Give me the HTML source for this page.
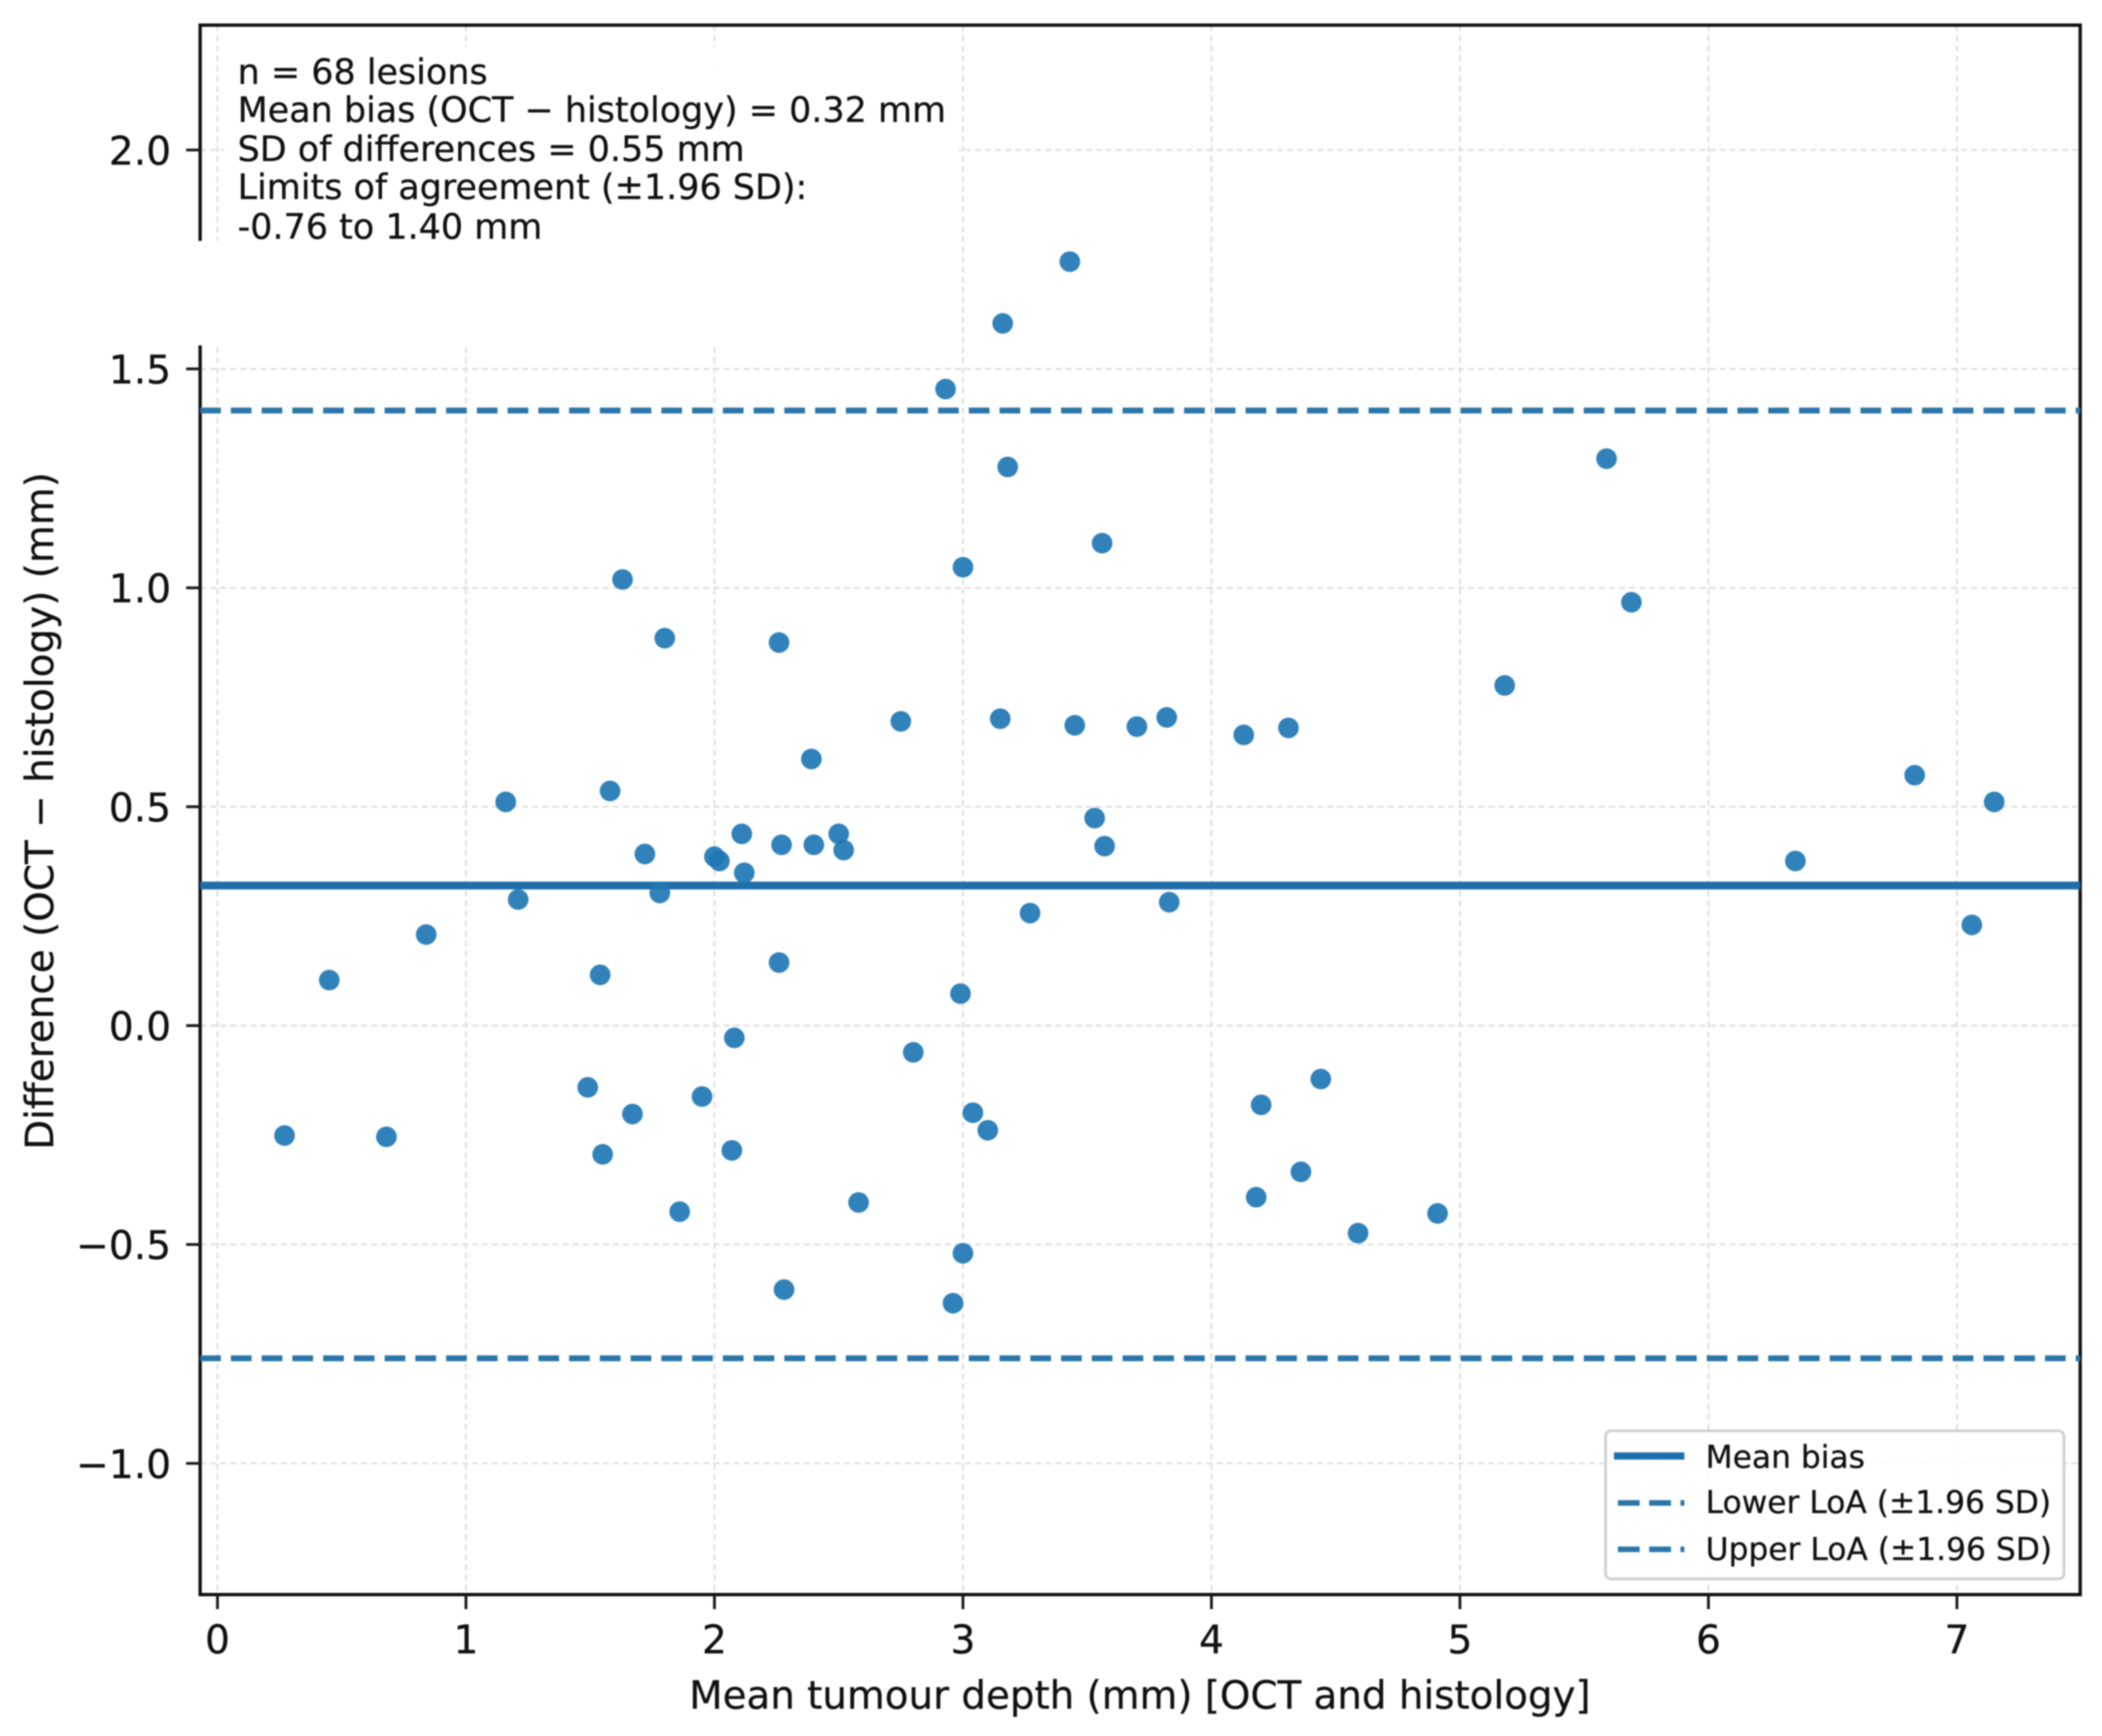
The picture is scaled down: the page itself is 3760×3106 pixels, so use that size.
<!DOCTYPE html>
<html>
<head>
<meta charset="utf-8">
<title>Bland-Altman plot</title>
<style>
html,body{margin:0;padding:0;background:#fff;width:3760px;height:3106px;overflow:hidden}
svg{display:block;filter:blur(1.2px)}
text{font-family:"DejaVu Sans","Liberation Sans",sans-serif;fill:#111;stroke:#111;stroke-width:0.5px}
</style>
</head>
<body>
<svg id="chart" xmlns="http://www.w3.org/2000/svg" width="3760" height="3106" viewBox="0 0 3760 3106">
  <rect x="0" y="0" width="3760" height="3106" fill="#fff"/>
  <g id="grid"></g>
  <rect x="358" y="45" width="3363" height="2808" fill="none" stroke="#111" stroke-width="6"/>
  <g id="ticks"></g>
  <rect x="400" y="85" width="1315" height="346" fill="#fff" fill-opacity="0.92"/>
  <rect x="345" y="431" width="1370" height="187" fill="#fff"/>
  <g id="refs"></g>
  <g id="points"></g>

  <g font-size="62.5">
    <text x="425" y="150">n = 68 lesions</text>
    <text x="425" y="218">Mean bias (OCT − histology) = 0.32 mm</text>
    <text x="425" y="288">SD of differences = 0.55 mm</text>
    <text x="425" y="356">Limits of agreement (±1.96 SD):</text>
    <text x="425" y="427">-0.76 to 1.40 mm</text>
  </g>

  <g>
    <rect x="2872" y="2560" width="820" height="265" rx="10" ry="10" fill="#fff" fill-opacity="0.85" stroke="#d0d0d0" stroke-width="5"/>
    <line x1="2887" x2="3013" y1="2605" y2="2605" stroke="#1f6fab" stroke-width="13"/>
    <text x="3051" y="2626" font-size="56">Mean bias</text>
    <line x1="2894" x2="3013" y1="2689" y2="2689" stroke="#2a76aa" stroke-width="10" stroke-dasharray="39 17"/>
    <text x="3051" y="2707" font-size="56">Lower LoA (±1.96 SD)</text>
    <line x1="2894" x2="3013" y1="2772" y2="2772" stroke="#2a76aa" stroke-width="10" stroke-dasharray="39 17"/>
    <text x="3051" y="2791" font-size="56">Upper LoA (±1.96 SD)</text>
  </g>

  <text x="2039" y="3057" font-size="69.4" text-anchor="middle">Mean tumour depth (mm) [OCT and histology]</text>
  <text transform="translate(95,1451) rotate(-90)" font-size="69.6" text-anchor="middle">Difference (OCT − histology) (mm)</text>
</svg>

<script>
const xTicks = [0, 1, 2, 3, 4, 5, 6, 7];
const xTickLabels = ["0", "1", "2", "3", "4", "5", "6", "7"];
const yTicks = [-1, -0.5, 0, 0.5, 1, 1.5, 2];
const yTickLabels = ["−1.0", "−0.5", "0.0", "0.5", "1.0", "1.5", "2.0"];
const meanBias = 0.32;
const lowerLoA = -0.76;
const upperLoA = 1.405;
const meanDepth = [3.43,3.16,2.93,3.18,5.59,3.56,3.00,5.69,1.63,1.80,2.26,5.18,2.75,3.15,3.45,3.70,3.82,4.13,4.31,2.39,1.58,1.16,6.83,7.15,3.53,2.11,2.50,2.27,2.40,2.52,3.57,1.72,2.00,2.02,2.12,6.35,1.78,1.21,3.83,3.27,0.84,7.06,0.45,1.54,2.26,2.99,2.08,2.80,4.44,1.49,1.95,3.04,1.67,4.20,3.10,0.27,0.68,2.07,1.55,4.36,4.18,2.58,1.86,4.91,4.59,3.00,2.28,2.96];
const differences = [1.745,1.604,1.454,1.276,1.295,1.102,1.047,0.967,1.019,0.885,0.875,0.777,0.695,0.701,0.686,0.683,0.704,0.664,0.680,0.609,0.536,0.511,0.572,0.511,0.474,0.438,0.438,0.413,0.413,0.401,0.410,0.392,0.386,0.376,0.349,0.376,0.303,0.288,0.282,0.257,0.208,0.230,0.104,0.116,0.144,0.073,-0.028,-0.061,-0.122,-0.141,-0.162,-0.199,-0.202,-0.181,-0.239,-0.251,-0.254,-0.285,-0.294,-0.334,-0.392,-0.404,-0.425,-0.429,-0.474,-0.520,-0.603,-0.634];

const SVG_NS = "http://www.w3.org/2000/svg";
const plotLeft = 358, plotRight = 3721, plotTop = 45, plotBottom = 2853;
function xScale(v) { return 389 + v * 444.5; }
function yScale(v) { return 1835 - v * 783.3; }
function make(tag, attrs, parent) {
  const el = document.createElementNS(SVG_NS, tag);
  for (const k in attrs) el.setAttribute(k, attrs[k]);
  parent.appendChild(el);
  return el;
}
const gridG = document.getElementById("grid");
const ticksG = document.getElementById("ticks");
const refsG = document.getElementById("refs");
const pointsG = document.getElementById("points");

xTicks.forEach(function (t, i) {
  const x = xScale(t);
  const g = make("line", {x1: x, x2: x, y1: plotTop, y2: plotBottom, stroke: "#dcdcdc", "stroke-width": 3, "stroke-dasharray": "11 7"}, gridG);
  
  
  const m = make("line", {x1: x, x2: x, y1: plotBottom, y2: plotBottom + 26, stroke: "#1a1a1a", "stroke-width": 5}, ticksG);
  
  
  const l = make("text", {x: x, y: 2958, "font-size": 70, "text-anchor": "middle"}, ticksG);
  
  
  l.textContent = xTickLabels[i];
});

yTicks.forEach(function (t, i) {
  const y = yScale(t);
  const g = make("line", {x1: plotLeft, x2: plotRight, y1: y, y2: y, stroke: "#dcdcdc", "stroke-width": 3, "stroke-dasharray": "11 7"}, gridG);
  
  
  const m = make("line", {x1: plotLeft - 25, x2: plotLeft, y1: y, y2: y, stroke: "#1a1a1a", "stroke-width": 5}, ticksG);
  
  
  const l = make("text", {x: 306, y: y + 26, "font-size": 70, "text-anchor": "end"}, ticksG);
  
  
  l.textContent = yTickLabels[i];
});

const meanLine = make("line", {x1: plotLeft, x2: plotRight, y1: yScale(meanBias), y2: yScale(meanBias), stroke: "#1f6fab", "stroke-width": 14}, refsG);


const lowerLine = make("line", {x1: plotLeft, x2: plotRight, y1: yScale(lowerLoA), y2: yScale(lowerLoA), stroke: "#2a76aa", "stroke-width": 10.5, "stroke-dasharray": "37 18"}, refsG);


const upperLine = make("line", {x1: plotLeft, x2: plotRight, y1: yScale(upperLoA), y2: yScale(upperLoA), stroke: "#2a76aa", "stroke-width": 10.5, "stroke-dasharray": "37 18"}, refsG);



meanDepth.forEach(function (d, i) {
  const c = make("circle", {cx: xScale(d), cy: yScale(differences[i]), r: 18.5, fill: "#1f77b4", "fill-opacity": 0.92}, pointsG);
  
  
});
</script>
</body>
</html>
